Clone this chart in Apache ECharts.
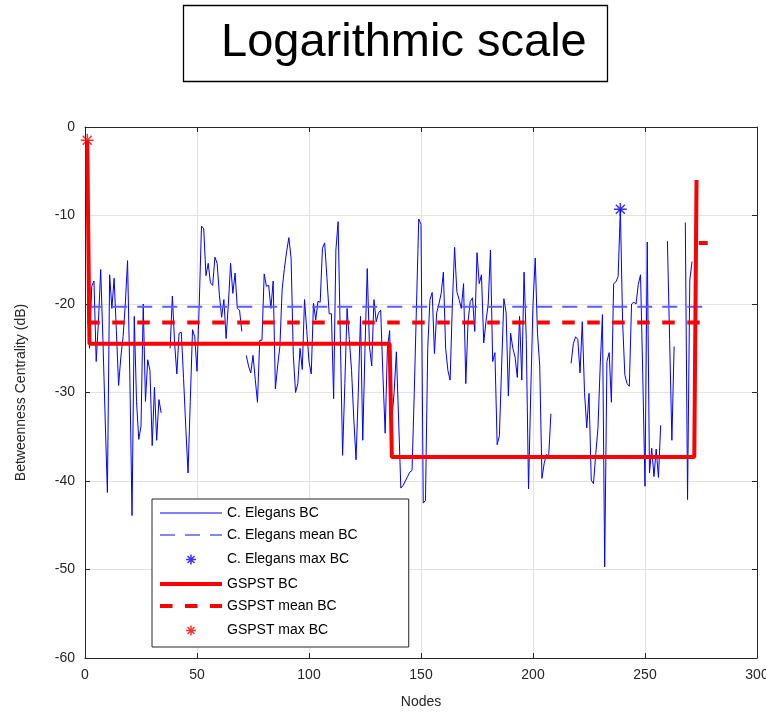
<!DOCTYPE html>
<html><head><meta charset="utf-8">
<script src="https://cdn.jsdelivr.net/npm/echarts@6/dist/echarts.min.js"></script>
<style>html,body{margin:0;padding:0;background:#fff}#c{width:766px;height:713px}</style>
</head><body><div id="c"></div>
<script>
// C. Elegans betweenness centrality (dB), node 1 .. 271 (null = -Inf / missing)
const elegansBC = [
 -20,-25,-18,-17.4,-26.5,-22,-16.1,-24,-33,-41.3,
 -16.7,-20.5,-17.1,-23,-29.2,-26,-23.7,-20,-15.1,-28,
 -43.9,-21.4,-31,-35.3,-33.8,-20,-31,-26.3,-27.5,-36,
 -29.4,-35.4,-30.8,-32.3,null,null,null,-25,-19.1,-24.4,
 -27.9,-23.3,-23.2,-28.4,-34,-39.1,-31,-22.9,-23.7,-27.6,
 -20,-11.2,-11.5,-16.8,-15.4,-17.6,-17.9,-14.7,-15.4,-19,
 -21.5,-19.5,-23.9,-20,-15.4,-18.8,-16.5,-20.5,-20.7,-23.1,
 null,-25.8,-27,-27.8,-25.8,-28.5,-31.1,-24.1,-24.1,-16.6,
 -18,-17.9,-20.5,-17.4,-29.6,-27,-24.8,-18.4,-16,-14.1,
 -12.5,-14.8,-25.8,-30,-29,-25,-27.4,-19.5,-23,-26.5,
 -27.9,-19.9,-21.8,-19.7,-19.8,-13.7,-13.1,-17,-21.1,-21.1,
 -30.7,-13.9,-10.7,-24,-37.1,-29,-20.5,-24,-27.5,-33,
 -37.6,-30,-21.4,-35.4,-25,-16,-24.8,-27,-19.5,-22,
 -21,-20.7,-28,-34.6,-25,-23,-33,-30,-25.4,-33,
 -40.8,-40.5,-40,-39.5,-39,-38.8,-30,-20,-10.4,-11,
 -42.5,-42.2,-25,-19.5,-18.7,-25.6,-21,-20,-18.8,-16.4,
 -25,-27.5,-28.6,-20,-13.6,-18.6,-19.5,-20.5,-17.7,-29,
 -22,-19.7,-19.3,-23.1,-14.2,-17.7,-16.7,-24.4,-22,-20,
 -13.9,-26.5,-25.5,-35.9,-34.9,-27,-19.4,-21,-30.4,-23.3,
 -25,-26,-28.3,-21.4,-28.6,-16.4,-24,-40.9,-30,-20,
 -14.8,-23.3,-27,-39.7,-38,-37,-37.2,-32.4,null,null,
 null,null,null,null,null,null,-26.7,-24.5,-23.7,-24,
 -27.8,-22,-30,-34,-30.1,-39.9,-40.3,-37,-34,-27,
 -21.2,-49.7,-26.5,-25.5,-31.1,-17.7,-17.5,-16.9,-9.3,-22,
 -28,-29,-29.3,-20,-19.8,-20,-17.8,-16.7,-28,-40.6,
 -13,-39.1,-36.3,-39.5,-36.4,-39.6,-33.7,null,null,-12.9,
 -24,-35.4,-24.8,null,null,null,null,-10.8,-42.1,-17.3,
 -15.2
];
const elegansMeanNodes = [1, 278];
const elegansMeanValue = -20.3;
const elegansMaxNode = 239;
const elegansMaxValue = -9.3;

// GSPST betweenness centrality (dB): breakpoints of the step curve
const gspstNodes  = [1, 2, 136, 137, 272, 273, 274, 274, 278];
const gspstValues = [-1.5, -24.5, -24.5, -37.3, -37.3, -6, null, -13.1, -13.1];
const gspstMeanNodes = [1, 278];
const gspstMeanValue = -22.1;
const gspstMaxNode = 1;
const gspstMaxValue = -1.5;

const xTicks = {min: 0, max: 300, interval: 50};
const yTicks = {min: -60, max: 0, interval: 10};

const FONT = 'Liberation Sans, Arial, Helvetica, sans-serif';
const AX = '#262626';
const STAR = 'path://M0,-10L0,10M-10,0L10,0M-7,-7L7,7M-7,7L7,-7M-14,-14M14,14';

const chart = echarts.init(document.getElementById('c'), null, {renderer: 'canvas'});

const elegansData = elegansBC.map((v, i) => [i + 1, v]);
const gspstData = gspstNodes.map((n, i) => [n, gspstValues[i]]);

const frameAxis = (pos, t) => ({
  type: 'value', position: pos, min: t.min, max: t.max, interval: t.interval,
  axisLine: {show: true, onZero: false, lineStyle: {color: AX, width: 1}},
  axisTick: {show: true, inside: true, length: 5, lineStyle: {color: AX}},
  axisLabel: {show: false}, splitLine: {show: false}
});

chart.setOption({
  animation: false,
  backgroundColor: '#fff',
  title: {
    text: 'Logarithmic scale', left: 183, top: 5,
    padding: [15, 21, 15, 38],
    borderColor: '#000', borderWidth: 1.3,
    textStyle: {fontFamily: FONT, fontSize: 47, fontWeight: 'normal', color: '#000'}
  },
  grid: {left: 85, right: 9, top: 127, bottom: 55, containLabel: false, outerBoundsMode: 'none'},
  xAxis: [{
    type: 'value', min: xTicks.min, max: xTicks.max, interval: xTicks.interval,
    name: 'Nodes', nameLocation: 'middle', nameGap: 37,
    nameTextStyle: {fontFamily: FONT, fontSize: 14, color: AX},
    axisLine: {show: true, onZero: false, lineStyle: {color: AX, width: 1}},
    axisTick: {show: true, inside: true, length: 5, lineStyle: {color: AX}},
    axisLabel: {fontFamily: FONT, fontSize: 14, color: AX, margin: 10},
    splitLine: {show: true, lineStyle: {color: '#e3e3e3', width: 1}}
  }, frameAxis('top', xTicks)],
  yAxis: [{
    type: 'value', min: yTicks.min, max: yTicks.max, interval: yTicks.interval,
    name: 'Betweenness Centrality (dB)', nameLocation: 'middle', nameGap: 57,
    nameTextStyle: {fontFamily: FONT, fontSize: 14, color: AX},
    axisLine: {show: true, onZero: false, lineStyle: {color: AX, width: 1}},
    axisTick: {show: true, inside: true, length: 5, lineStyle: {color: AX}},
    axisLabel: {fontFamily: FONT, fontSize: 14, color: AX, margin: 10},
    splitLine: {show: true, lineStyle: {color: '#e3e3e3', width: 1}}
  }, frameAxis('right', yTicks)],
  legend: {
    orient: 'vertical', left: 152, top: 499,
    padding: [7, 51, 7, 6], itemWidth: 62, itemHeight: 14, itemGap: 8,
    borderColor: AX, borderWidth: 1, backgroundColor: '#fff',
    textStyle: {fontFamily: FONT, fontSize: 14, color: '#000'},
    selectedMode: false,
    data: [
      {name: 'C. Elegans BC', itemStyle: {opacity: 0}, lineStyle: {width: 1}},
      {name: 'C. Elegans mean BC', itemStyle: {opacity: 0}, lineStyle: {width: 1.5}},
      {name: 'C. Elegans max BC', itemStyle: {borderWidth: 1.5}},
      {name: 'GSPST BC', itemStyle: {opacity: 0}, lineStyle: {width: 4}},
      {name: 'GSPST mean BC', itemStyle: {opacity: 0}, lineStyle: {width: 4}},
      {name: 'GSPST max BC', itemStyle: {borderWidth: 1.5}}
    ]
  },
  series: [
    {name: 'C. Elegans BC', type: 'line', data: elegansData, symbol: 'none',
     lineStyle: {color: '#0000ff', width: 1}, itemStyle: {color: '#0000ff'}, connectNulls: false},
    {name: 'C. Elegans mean BC', type: 'line', symbol: 'none',
     data: elegansMeanNodes.map(n => [n, elegansMeanValue]),
     lineStyle: {color: '#5c5cff', width: 2, type: [15, 10]}, itemStyle: {color: '#5c5cff'}},
    {name: 'C. Elegans max BC', type: 'scatter', symbol: STAR, symbolSize: 18,
     data: [[elegansMaxNode, elegansMaxValue]],
     itemStyle: {color: 'none', borderColor: '#0000ff', borderWidth: 1.5}},
    {name: 'GSPST BC', type: 'line', symbol: 'none', data: gspstData, connectNulls: false,
     lineStyle: {color: '#ff0000', width: 4}, itemStyle: {color: '#ff0000'}},
    {name: 'GSPST mean BC', type: 'line', symbol: 'none',
     data: gspstMeanNodes.map(n => [n, gspstMeanValue]),
     lineStyle: {color: '#ff0000', width: 4, type: [12.5, 12.5]}, itemStyle: {color: '#ff0000'}},
    {name: 'GSPST max BC', type: 'scatter', symbol: STAR, symbolSize: 18,
     data: [[gspstMaxNode, gspstMaxValue]],
     itemStyle: {color: 'none', borderColor: '#ff0000', borderWidth: 1.5}}
  ]
});
</script>
</body></html>
